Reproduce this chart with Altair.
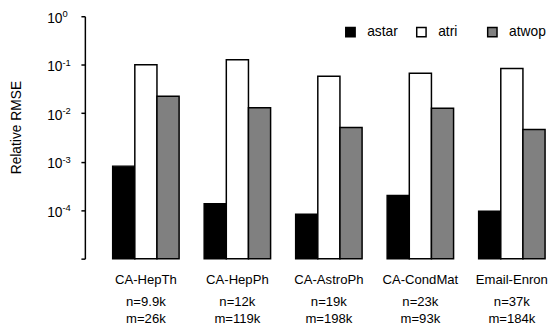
import altair as alt
import pandas as pd

categories = ["CA-HepTh", "CA-HepPh", "CA-AstroPh", "CA-CondMat", "Email-Enron"]
n_labels = ["n=9.9k", "n=12k", "n=19k", "n=23k", "n=37k"]
m_labels = ["m=26k", "m=119k", "m=198k", "m=93k", "m=184k"]
series = ["astar", "atri", "atwop"]
astar = [8.1e-4, 1.36e-4, 8.2e-5, 2.0e-4, 9.5e-5]
atri = [0.100, 0.126, 0.058, 0.067, 0.084]
atwop = [0.0224, 0.0130, 0.0051, 0.0126, 0.0046]
colors = ["#000000", "#ffffff", "#808080"]
tick_exps = [0, -1, -2, -3, -4]
axis_ticks = [1e-5, 1e-4, 1e-3, 1e-2, 1e-1, 1.0]
y_title = "Relative RMSE"

rows = []
for s, vals in zip(series, [astar, atri, atwop]):
    for c, v in zip(categories, vals):
        rows.append({"category": c, "series": s, "value": v, "base": 1e-5})
bars_df = pd.DataFrame(rows)
labels_df = pd.DataFrame({"category": categories, "n": n_labels, "m": m_labels})
ticks_df = pd.DataFrame({"v": [10.0 ** e for e in tick_exps], "exp": [str(e) for e in tick_exps]})
title_df = pd.DataFrame({"t": [y_title]})

FONT = "Liberation Sans"
LABEL_SIZE = 13.3
xscale = alt.Scale(domain=categories, paddingInner=0.274, paddingOuter=0.152, align=1)
yscale = alt.Scale(type="log", domain=[1e-5, 1])
yaxis = alt.Axis(values=axis_ticks, labels=False, title=None, tickSize=4,
                 tickWidth=1.5, tickColor="black", domain=True, domainColor="black",
                 domainWidth=1.5, grid=False, ticks=True)

bars = alt.Chart(bars_df).mark_bar(stroke="black", strokeWidth=1.5).encode(
    x=alt.X("category:N", scale=xscale, axis=None, sort=categories),
    xOffset=alt.XOffset("series:N", scale=alt.Scale(domain=series, paddingInner=0, paddingOuter=0)),
    y=alt.Y("value:Q", scale=yscale, axis=yaxis),
    y2="base:Q",
    fill=alt.Fill("series:N", scale=alt.Scale(domain=series, range=colors),
                  legend=alt.Legend(orient="none", legendX=262.5, legendY=9,
                                    direction="horizontal", title=None,
                                    symbolType="square", symbolSize=90,
                                    symbolStrokeColor="black", symbolStrokeWidth=1.5,
                                    labelFont=FONT, labelFontSize=14, labelColor="black",
                                    labelOffset=10, columnPadding=9, gridAlign="all",
                                    padding=0)),
)

cat_text = alt.Chart(labels_df).mark_text(font=FONT, fontSize=LABEL_SIZE, baseline="alphabetic", color="black").encode(
    x=alt.X("category:N", scale=xscale, axis=None), y=alt.value(271.3), text="category:N")
n_text = alt.Chart(labels_df).mark_text(font=FONT, fontSize=LABEL_SIZE, baseline="alphabetic", color="black").encode(
    x=alt.X("category:N", scale=xscale, axis=None), y=alt.value(293.7), text="n:N")
m_text = alt.Chart(labels_df).mark_text(font=FONT, fontSize=LABEL_SIZE, baseline="alphabetic", color="black").encode(
    x=alt.X("category:N", scale=xscale, axis=None), y=alt.value(311.3), text="m:N")

base_text = alt.Chart(ticks_df).mark_text(font=FONT, fontSize=14, align="right", baseline="alphabetic",
                                          dy=6.6, color="black").encode(
    x=alt.value(-22.7), y=alt.Y("v:Q", scale=yscale, axis=yaxis), text=alt.value("10"))
exp_text = alt.Chart(ticks_df).mark_text(font=FONT, fontSize=9.5, align="left", baseline="alphabetic",
                                         dy=1, color="black").encode(
    x=alt.value(-22.7), y=alt.Y("v:Q", scale=yscale, axis=yaxis), text="exp:N")

title_text = alt.Chart(title_df).mark_text(font=FONT, fontSize=14, angle=270, align="center",
                                           baseline="middle", color="black").encode(
    x=alt.value(-69), y=alt.value(113), text="t:N")

chart = alt.layer(bars, cat_text, n_text, m_text, base_text, exp_text, title_text).properties(
    width=467, height=246,
    padding={"left": 78, "top": 6, "right": 5, "bottom": 68},
    autosize=alt.AutoSizeParams(type="none"),
).configure_view(stroke=None).configure_axis(grid=False)

chart.save("out.html", embed_options={"renderer": "svg", "actions": False})
